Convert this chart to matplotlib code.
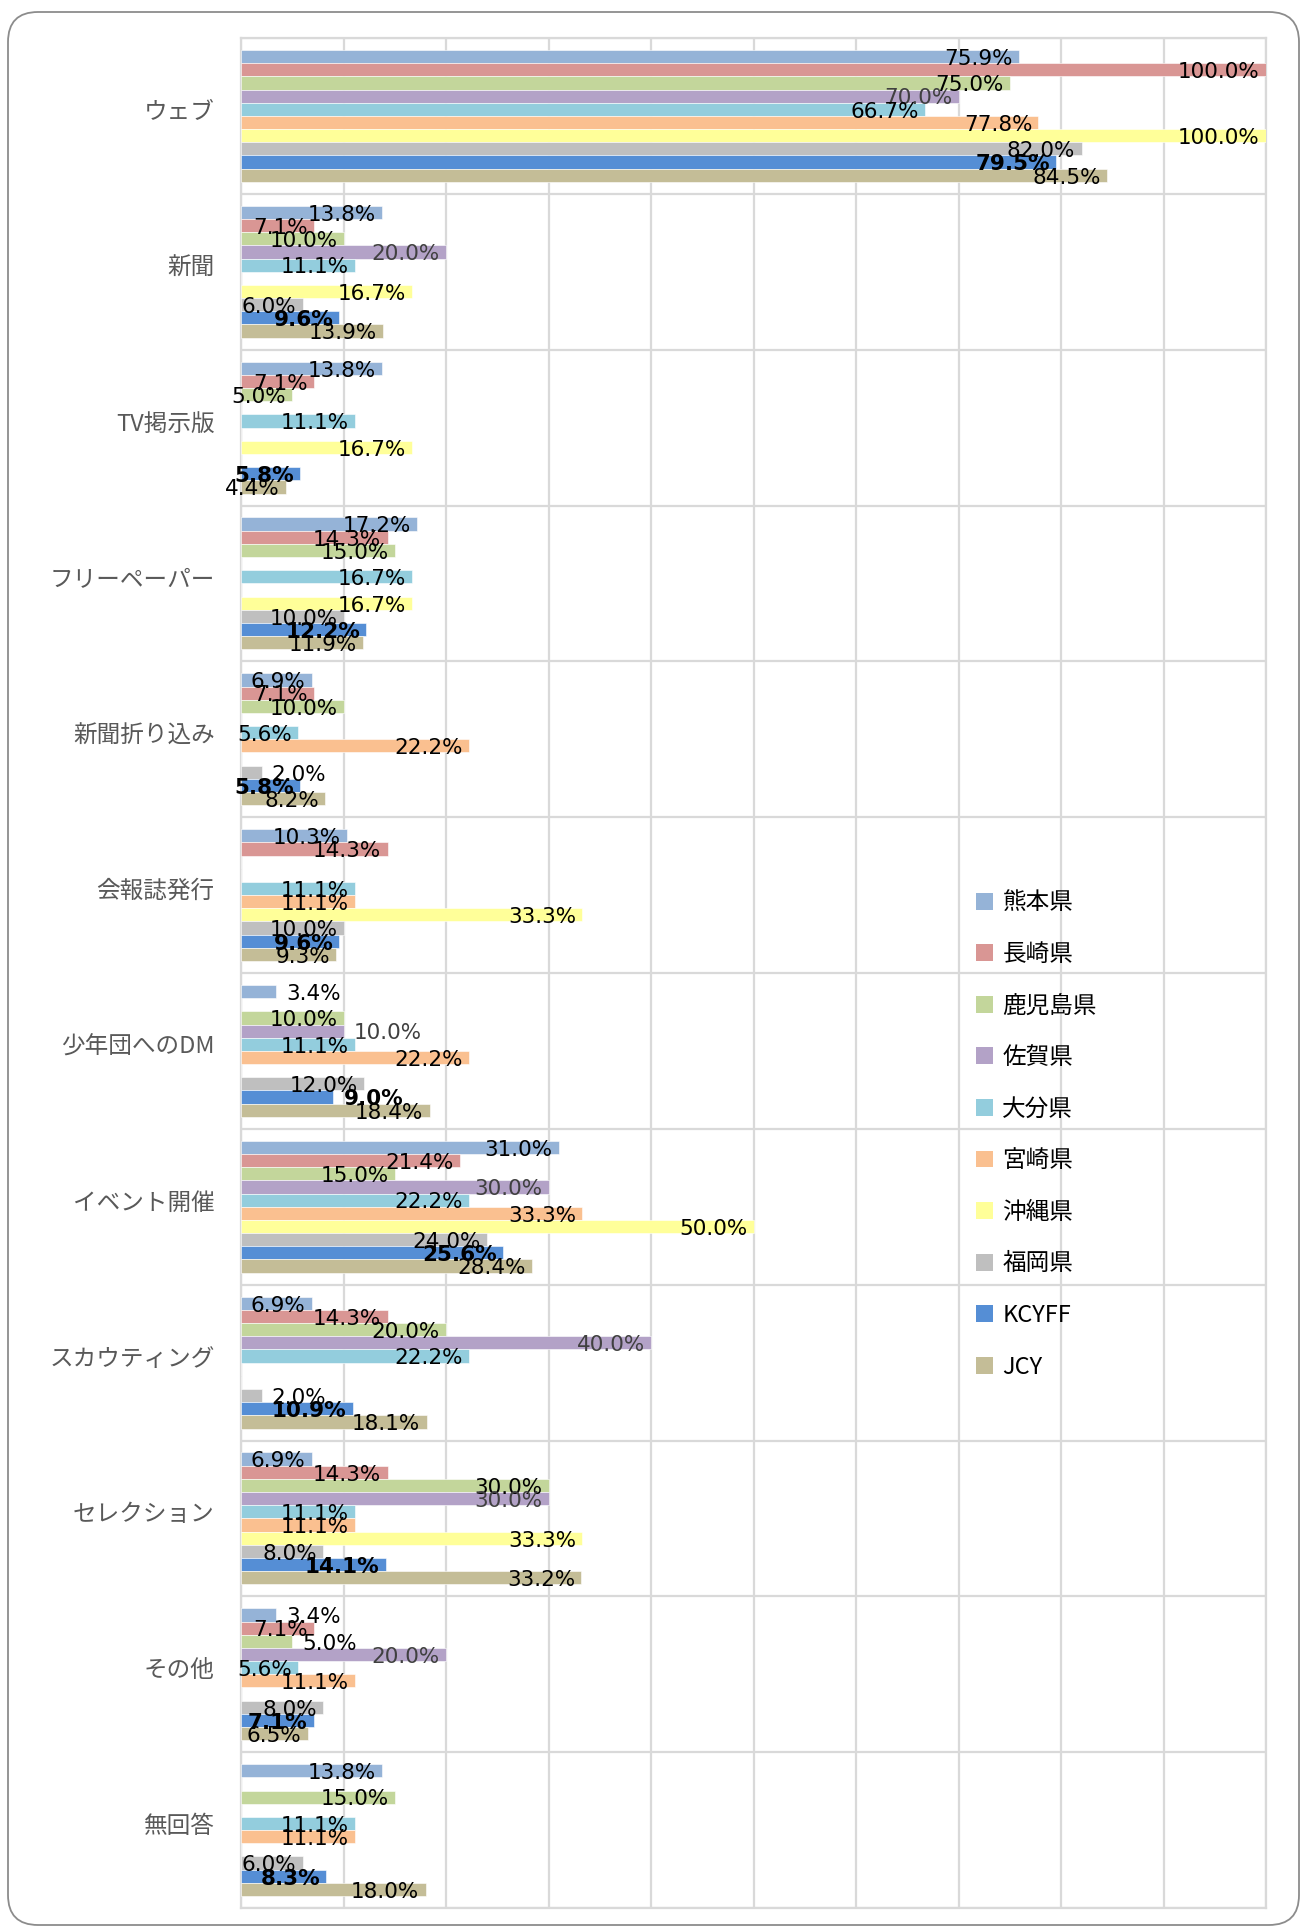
import matplotlib.pyplot as plt
import numpy as np
from matplotlib.patches import FancyBboxPatch, Patch
from matplotlib.transforms import IdentityTransform, ScaledTranslation

plt.rcParams['font.family'] = ['Noto Sans CJK JP', 'DejaVu Sans']

categories = ['ウェブ', '新聞', 'TV掲示版', 'フリーペーパー', '新聞折り込み', '会報誌発行',
              '少年団へのDM', 'イベント開催', 'スカウティング', 'セレクション', 'その他', '無回答']
series = ['熊本県', '長崎県', '鹿児島県', '佐賀県', '大分県', '宮崎県', '沖縄県', '福岡県', 'KCYFF', 'JCY']

# percentages per category (0 = no answer, no bar/label)
kumamoto  = [75.9, 13.8, 13.8, 17.2, 6.9, 10.3, 3.4, 31.0, 6.9, 6.9, 3.4, 13.8]
nagasaki  = [100.0, 7.1, 7.1, 14.3, 7.1, 14.3, 0, 21.4, 14.3, 14.3, 7.1, 0]
kagoshima = [75.0, 10.0, 5.0, 15.0, 10.0, 0, 10.0, 15.0, 20.0, 30.0, 5.0, 15.0]
saga      = [70.0, 20.0, 0, 0, 0, 0, 10.0, 30.0, 40.0, 30.0, 20.0, 0]
oita      = [66.7, 11.1, 11.1, 16.7, 5.6, 11.1, 11.1, 22.2, 22.2, 11.1, 5.6, 11.1]
miyazaki  = [77.8, 0, 0, 0, 22.2, 11.1, 22.2, 33.3, 0, 11.1, 11.1, 11.1]
okinawa   = [100.0, 16.7, 16.7, 16.7, 0, 33.3, 0, 50.0, 0, 33.3, 0, 0]
fukuoka   = [82.0, 6.0, 0, 10.0, 2.0, 10.0, 12.0, 24.0, 2.0, 8.0, 8.0, 6.0]
kcyff     = [79.5, 9.6, 5.8, 12.2, 5.8, 9.6, 9.0, 25.6, 10.9, 14.1, 7.1, 8.3]
jcy       = [84.5, 13.9, 4.4, 11.9, 8.2, 9.3, 18.4, 28.4, 18.1, 33.2, 6.5, 18.0]

values = [kumamoto, nagasaki, kagoshima, saga, oita, miyazaki, okinawa, fukuoka, kcyff, jcy]
colors = ['#95B3D7', '#D99694', '#C3D69B', '#B3A2C7', '#93CDDD',
          '#FAC090', '#FFFF99', '#BFBFBF', '#558ED5', '#C4BD97']

# labels that sit to the right of their bar (category index, series index)
outside = {(6, 0), (6, 3), (6, 8), (8, 7), (10, 0), (10, 2), (4, 7)}

fig = plt.figure(figsize=(13.04, 19.28), dpi=100)
ax = fig.add_axes([241 / 1304, 20 / 1928, 1025 / 1304, 1870 / 1928])

n = len(series)
h = 0.0846
y = np.arange(len(categories))

for i, (name, vals, col) in enumerate(zip(series, values, colors)):
    pos = y + (i - (n - 1) / 2) * h
    ax.barh(pos, vals, height=h, color=col, edgecolor='white', linewidth=0.4,
            label=name, zorder=3)
    tcol = '#404040' if name == '佐賀県' else 'black'
    weight = 'bold' if name == 'KCYFF' else 'normal'
    for c, v in enumerate(vals):
        if v == 0:
            continue
        if (c, i) in outside:
            x, ha = v + 1.0, 'left'
        else:
            x, ha = v - 0.6, 'right'
        ax.text(x, pos[c] + 0.015, f'{v:.1f}%', ha=ha, va='center', fontsize=15.5,
                color=tcol, fontweight=weight, family='DejaVu Sans', zorder=4)

ax.set_xlim(0, 100)
ax.set_ylim(len(categories) - 0.5, -0.5)
ax.set_xticks(np.arange(0, 101, 10))
ax.set_xticklabels([])
ax.set_yticks(y)
ax.set_yticklabels(categories, fontsize=17, color='#595959')
ax.tick_params(axis='y', length=0, pad=19)
ax.tick_params(axis='x', length=0)
lift = ScaledTranslation(0, 0.06, fig.dpi_scale_trans)
for lab in ax.get_yticklabels():
    lab.set_transform(lab.get_transform() + lift)

grid = '#D9D9D9'
ax.grid(axis='x', color=grid, linewidth=1.6, zorder=0)
for b in np.arange(-0.5, len(categories), 1):
    ax.axhline(b, color=grid, linewidth=1.6, zorder=0)
for s in ax.spines.values():
    s.set_color(grid)
    s.set_linewidth(1.6)

handles = [Patch(facecolor=c, edgecolor='none') for c in colors]
fig.legend(handles, series, loc='center left', bbox_to_anchor=(976 / 1304, 0.4113),
           frameon=False, fontsize=17, handlelength=0.72, handleheight=0.72,
           handletextpad=0.4, labelspacing=1.21, borderpad=0, borderaxespad=0)

# rounded outer frame
frame = FancyBboxPatch((8, 3), 1291, 1913, boxstyle='round,pad=0,rounding_size=30',
                       transform=IdentityTransform(), facecolor='none',
                       edgecolor='#8C8C8C', linewidth=1.3)
fig.patches.append(frame)

fig.savefig('out.png', dpi=100)
